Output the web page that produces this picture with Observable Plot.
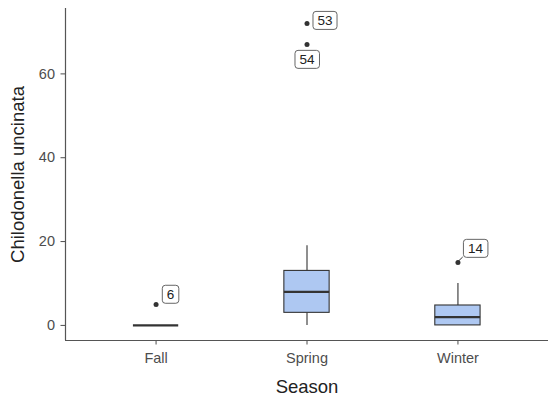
<!DOCTYPE html>
<html>
<head>
<meta charset="utf-8">
<script src="https://cdn.jsdelivr.net/npm/d3@7"></script>
<script src="https://cdn.jsdelivr.net/npm/@observablehq/plot@0.6"></script>
<style>
  html, body { margin: 0; padding: 0; background: #fff; }
</style>
</head>
<body>
<div id="chart"></div>
<script>
// Box summary per season (Chilodonella uncinata counts)
const seasons = ["Fall", "Spring", "Winter"];
const lowerWhisker = [0, 0, 0];
const q1 = [0, 3, 0];
const median = [0, 8, 2];
const q3 = [0, 13, 4.75];
const upperWhisker = [0, 19, 10];

// Outlying observations and their sample ids
const outlierSeason = ["Fall", "Spring", "Spring", "Winter"];
const outlierValue = [5, 72, 67, 15];
const outlierId = ["6", "53", "54", "14"];

const yTicks = [0, 20, 40, 60];

// Label placement (pixel nudges from each point) and leader-line flags
const labelNudge = [[14.5, -10], [18, -3], [0, 15], [17.5, -14]];
const labelLeader = [false, false, false, true];

const boxes = seasons.map((s, i) => ({
  pos: i + 1,
  lo: lowerWhisker[i], q1: q1[i], med: median[i], q3: q3[i], hi: upperWhisker[i]
}));
const outliers = outlierValue.map((v, i) => ({
  pos: seasons.indexOf(outlierSeason[i]) + 1,
  value: v,
  id: outlierId[i]
}));

const halfWidth = 0.15;
const yDomain = [-3.6, 75.6];
const xDomain = [0.4, 3.6];
const ink = "#333333";

const chart = Plot.plot({
  width: 549,
  height: 402,
  marginLeft: 65,
  marginRight: 1,
  marginTop: 8,
  marginBottom: 62,
  style: { fontFamily: "'Liberation Sans', Arial, sans-serif", fontSize: "14.5px", background: "#fff" },
  x: { domain: xDomain, label: null },
  y: { domain: yDomain, label: null },
  marks: [
    Plot.axisY({ ticks: yTicks, tickSize: 4.5, tickPadding: 6, color: "#4d4d4d", label: null }),
    Plot.axisX({ ticks: [1, 2, 3], tickFormat: (d) => seasons[d - 1], tickSize: 4.5, tickPadding: 8, color: "#4d4d4d", label: null }),
    Plot.ruleX([xDomain[0]], { stroke: "#555", strokeWidth: 1.2 }),
    Plot.ruleY([yDomain[0]], { stroke: "#555", strokeWidth: 1.2 }),
    // whiskers
    Plot.ruleX(boxes, { x: "pos", y1: "q3", y2: "hi", stroke: ink, strokeWidth: 1.1 }),
    Plot.ruleX(boxes, { x: "pos", y1: "lo", y2: "q1", stroke: ink, strokeWidth: 1.1 }),
    // boxes
    Plot.rectY(boxes, {
      x1: (d) => d.pos - halfWidth, x2: (d) => d.pos + halfWidth,
      y1: "q1", y2: "q3", fill: "#aec8f2", stroke: ink, strokeWidth: 1.1
    }),
    // medians
    Plot.ruleY(boxes, {
      y: "med", x1: (d) => d.pos - halfWidth, x2: (d) => d.pos + halfWidth,
      stroke: ink, strokeWidth: 2.3
    }),
    // outliers
    Plot.dot(outliers, { x: "pos", y: "value", r: 2.5, fill: ink, stroke: null }),
    // id labels
    ...outliers.map((d, i) => Plot.text([d], {
      x: "pos", y: "value", text: "id",
      dx: labelNudge[i][0], dy: labelNudge[i][1],
      fontSize: 13.5, fill: "#222", textAnchor: "middle", lineAnchor: "middle"
    })),
    // axis titles
    Plot.text(["Season"], { text: (d) => d, frameAnchor: "bottom", dy: 47, fontSize: 18.5, fill: "#222", textAnchor: "middle", lineAnchor: "middle" }),
    Plot.text(["Chilodonella uncinata"], { text: (d) => d, frameAnchor: "left", rotate: -90, dx: -47, fontSize: 18.5, fill: "#222", textAnchor: "middle", lineAnchor: "middle" })
  ]
});

document.getElementById("chart").appendChild(chart);

// Rounded boxes behind the id labels, plus leader lines where needed
const svgNS = "http://www.w3.org/2000/svg";
const xs = chart.scale("x"), ys = chart.scale("y");
const labelGroups = Array.from(chart.querySelectorAll('g[aria-label="text"]')).slice(0, outliers.length);
labelGroups.forEach((g, i) => {
  const t = g.querySelector("text");
  if (!t) return;
  const bb = t.getBBox();
  const padX = 4.5, padY = 1.5;
  const r = document.createElementNS(svgNS, "rect");
  r.setAttribute("x", bb.x - padX);
  r.setAttribute("y", bb.y - padY);
  r.setAttribute("width", bb.width + 2 * padX);
  r.setAttribute("height", bb.height + 2 * padY);
  r.setAttribute("rx", 3);
  r.setAttribute("fill", "#fff");
  r.setAttribute("stroke", "#555");
  r.setAttribute("stroke-width", 0.9);
  if (t.getAttribute("transform")) r.setAttribute("transform", t.getAttribute("transform"));
  t.parentNode.insertBefore(r, t);

  if (labelLeader[i]) {
    const d = outliers[i];
    const px = xs.apply(d.pos), py = ys.apply(d.value);
    const cx = px + labelNudge[i][0], cy = py + labelNudge[i][1];
    const w = bb.width + 2 * padX, h = bb.height + 2 * padY;
    const line = document.createElementNS(svgNS, "line");
    line.setAttribute("x1", px); line.setAttribute("y1", py);
    line.setAttribute("x2", cx - w / 2); line.setAttribute("y2", cy + h / 2);
    line.setAttribute("stroke", ink);
    line.setAttribute("stroke-width", 1);
    g.parentNode.insertBefore(line, g);
  }
});
</script>
</body>
</html>
